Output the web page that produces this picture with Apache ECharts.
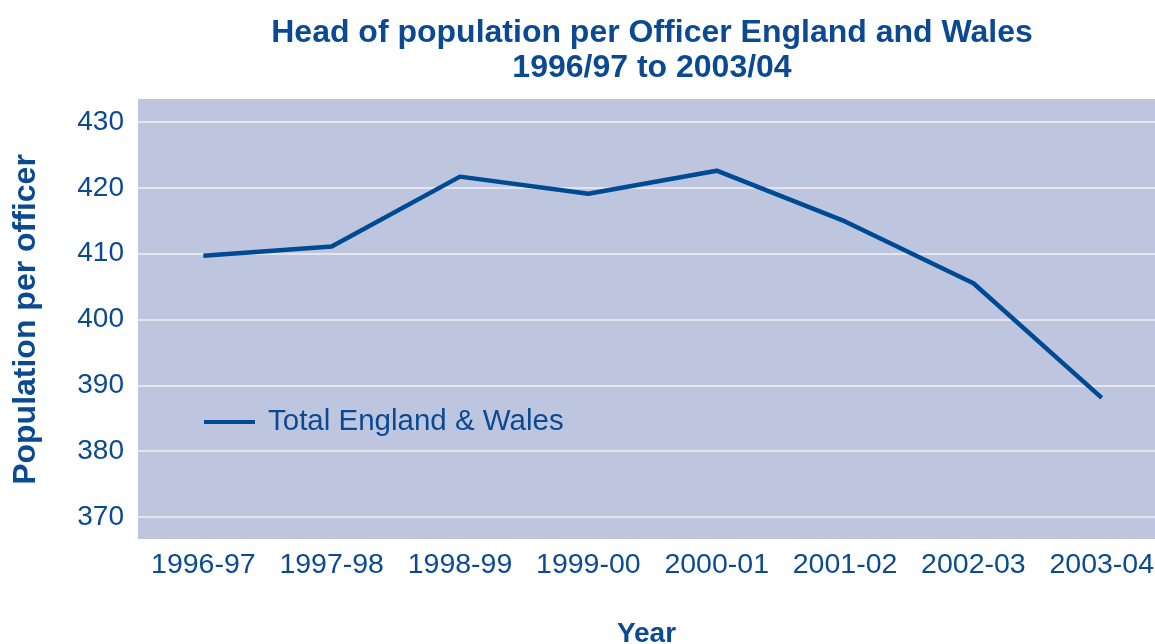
<!DOCTYPE html>
<html>
<head>
<meta charset="utf-8">
<script src="https://cdn.jsdelivr.net/npm/echarts@6/dist/echarts.min.js"></script>
<style>
  html, body { margin: 0; padding: 0; background: #fff; }
  #main { width: 1155px; height: 644px; }
</style>
</head>
<body>
<div id="main"></div>
<script>
// 数据
var years = ['1996-97', '1997-98', '1998-99', '1999-00', '2000-01', '2001-02', '2002-03', '2003-04'];
var perOfficer = [409.7, 411.1, 421.7, 419.1, 422.6, 414.9, 405.5, 388.1];
var yTicks = [370, 380, 390, 400, 410, 420, 430];

var blue = '#0b4a93';
var font = '"Liberation Sans", Arial, sans-serif';

// x 用数值轴 (索引), 这样网格线能铺满整个背景
var lineData = perOfficer.map(function (v, i) { return [i, v]; });
var xIdx = years.map(function (y, i) { return i; });

var myChart = echarts.init(document.getElementById('main'));
myChart.setOption({
    animation: false,
    title: {
        text: 'Head of population per Officer England and Wales\n1996/97 to 2003/04',
        left: 647,
        textAlign: 'center',
        top: 11,
        textStyle: { color: blue, fontFamily: font, fontWeight: 'bold', fontSize: 32, lineHeight: 35 }
    },
    // 背景
    graphic: [{
        type: 'rect',
        z: -10,
        shape: { x: 138, y: 99, width: 1017, height: 440 },
        style: { fill: '#bec6df' }
    }],
    legend: {
        left: 199,
        top: 402,
        icon: 'rect',
        itemWidth: 51,
        itemHeight: 4,
        textStyle: { color: blue, fontFamily: font, fontSize: 29.5, padding: [0, 0, 0, 8] },
        data: ['Total England & Wales']
    },
    grid: { left: 138, right: 0, top: 122, bottom: 127, outerBoundsMode: 'none' },
    xAxis: {
        type: 'value',
        min: -0.509,
        max: 7.415,
        name: 'Year',
        nameLocation: 'middle',
        nameGap: 103,
        nameTextStyle: { color: blue, fontFamily: font, fontWeight: 'bold', fontSize: 28 },
        axisLine: { show: false },
        axisTick: { show: false },
        splitLine: { show: false },
        axisLabel: {
            color: blue, fontFamily: font, fontSize: 28.5, margin: 34,
            customValues: xIdx,
            formatter: function (v) { return years[v]; }
        }
    },
    yAxis: {
        type: 'value',
        min: yTicks[0],
        max: yTicks[yTicks.length - 1],
        interval: 10,
        name: 'Population per officer',
        nameLocation: 'middle',
        nameGap: 96,
        nameTextStyle: { color: blue, fontFamily: font, fontWeight: 'bold', fontSize: 32 },
        axisLine: { show: false },
        axisTick: { show: false },
        axisLabel: { color: blue, fontFamily: font, fontSize: 28, margin: 14 },
        splitLine: { lineStyle: { color: '#eef0f7', width: 1.5 } }
    },
    series: [{
        name: 'Total England & Wales',
        type: 'line',
        data: lineData,
        symbol: 'none',
        color: '#004a94',
        lineStyle: { color: '#004a94', width: 4.5 }
    }]
});
</script>
</body>
</html>
